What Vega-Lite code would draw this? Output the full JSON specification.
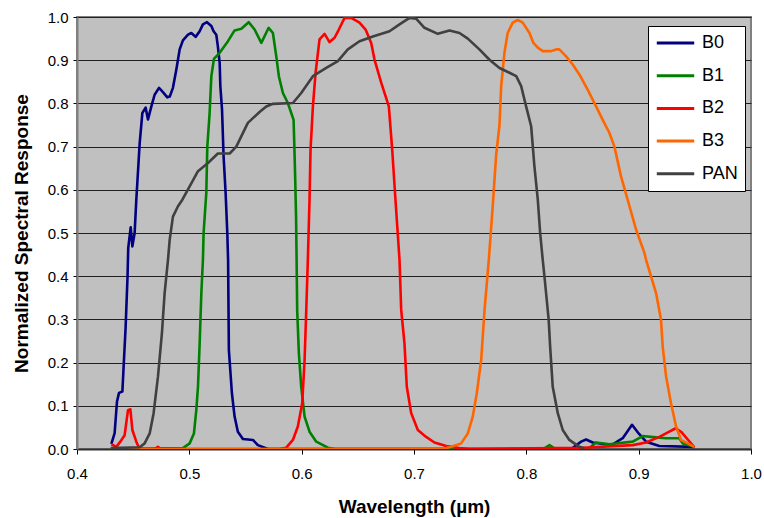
{
  "$schema": "https://vega.github.io/schema/vega-lite/v6.json",
  "width": 674,
  "height": 432,
  "autosize": {"type": "none"},
  "padding": {"left": 77, "top": 17, "right": 13, "bottom": 69},
  "background": "white",
  "config": {
    "font": "Liberation Sans",
    "view": {"fill": "#C0C0C0", "stroke": "#808080", "strokeWidth": 2}
  },
  "data": {
    "values": [
      {"band": "B0", "wl": 0.4306, "resp": 0.012},
      {"band": "B0", "wl": 0.4335, "resp": 0.037},
      {"band": "B0", "wl": 0.4356, "resp": 0.11},
      {"band": "B0", "wl": 0.4374, "resp": 0.13},
      {"band": "B0", "wl": 0.4404, "resp": 0.133},
      {"band": "B0", "wl": 0.4418, "resp": 0.206},
      {"band": "B0", "wl": 0.4433, "resp": 0.283},
      {"band": "B0", "wl": 0.4450, "resp": 0.40},
      {"band": "B0", "wl": 0.4456, "resp": 0.465},
      {"band": "B0", "wl": 0.4478, "resp": 0.513},
      {"band": "B0", "wl": 0.4493, "resp": 0.469},
      {"band": "B0", "wl": 0.4513, "resp": 0.50},
      {"band": "B0", "wl": 0.4528, "resp": 0.577},
      {"band": "B0", "wl": 0.4558, "resp": 0.708},
      {"band": "B0", "wl": 0.4582, "resp": 0.778},
      {"band": "B0", "wl": 0.4611, "resp": 0.790},
      {"band": "B0", "wl": 0.4632, "resp": 0.763},
      {"band": "B0", "wl": 0.4662, "resp": 0.793},
      {"band": "B0", "wl": 0.4691, "resp": 0.820},
      {"band": "B0", "wl": 0.4730, "resp": 0.836},
      {"band": "B0", "wl": 0.4765, "resp": 0.826},
      {"band": "B0", "wl": 0.4804, "resp": 0.814},
      {"band": "B0", "wl": 0.4826, "resp": 0.816},
      {"band": "B0", "wl": 0.4854, "resp": 0.836},
      {"band": "B0", "wl": 0.4884, "resp": 0.878},
      {"band": "B0", "wl": 0.4914, "resp": 0.925},
      {"band": "B0", "wl": 0.4943, "resp": 0.946},
      {"band": "B0", "wl": 0.4988, "resp": 0.959},
      {"band": "B0", "wl": 0.5018, "resp": 0.963},
      {"band": "B0", "wl": 0.5056, "resp": 0.954},
      {"band": "B0", "wl": 0.5092, "resp": 0.967},
      {"band": "B0", "wl": 0.5121, "resp": 0.983},
      {"band": "B0", "wl": 0.5157, "resp": 0.988},
      {"band": "B0", "wl": 0.5196, "resp": 0.979},
      {"band": "B0", "wl": 0.5216, "resp": 0.967},
      {"band": "B0", "wl": 0.5240, "resp": 0.959},
      {"band": "B0", "wl": 0.5254, "resp": 0.932},
      {"band": "B0", "wl": 0.5270, "resp": 0.894},
      {"band": "B0", "wl": 0.5276, "resp": 0.84},
      {"band": "B0", "wl": 0.5291, "resp": 0.786},
      {"band": "B0", "wl": 0.5305, "resp": 0.677},
      {"band": "B0", "wl": 0.5323, "resp": 0.593},
      {"band": "B0", "wl": 0.5338, "resp": 0.50},
      {"band": "B0", "wl": 0.5345, "resp": 0.438},
      {"band": "B0", "wl": 0.5352, "resp": 0.229},
      {"band": "B0", "wl": 0.5379, "resp": 0.129},
      {"band": "B0", "wl": 0.5403, "resp": 0.075},
      {"band": "B0", "wl": 0.5432, "resp": 0.040},
      {"band": "B0", "wl": 0.5477, "resp": 0.023},
      {"band": "B0", "wl": 0.5566, "resp": 0.021},
      {"band": "B0", "wl": 0.5610, "resp": 0.009},
      {"band": "B0", "wl": 0.5700, "resp": 0.0},
      {"band": "B0", "wl": 0.8400, "resp": 0.0},
      {"band": "B0", "wl": 0.8488, "resp": 0.017},
      {"band": "B0", "wl": 0.8532, "resp": 0.022},
      {"band": "B0", "wl": 0.8591, "resp": 0.015},
      {"band": "B0", "wl": 0.8700, "resp": 0.011},
      {"band": "B0", "wl": 0.8770, "resp": 0.011},
      {"band": "B0", "wl": 0.8858, "resp": 0.025},
      {"band": "B0", "wl": 0.8941, "resp": 0.056},
      {"band": "B0", "wl": 0.9000, "resp": 0.036},
      {"band": "B0", "wl": 0.9066, "resp": 0.017},
      {"band": "B0", "wl": 0.9184, "resp": 0.007},
      {"band": "B0", "wl": 0.9496, "resp": 0.005},

      {"band": "B1", "wl": 0.4300, "resp": 0.0},
      {"band": "B1", "wl": 0.4943, "resp": 0.002},
      {"band": "B1", "wl": 0.5003, "resp": 0.013},
      {"band": "B1", "wl": 0.5041, "resp": 0.036},
      {"band": "B1", "wl": 0.5062, "resp": 0.090},
      {"band": "B1", "wl": 0.5077, "resp": 0.144},
      {"band": "B1", "wl": 0.5092, "resp": 0.245},
      {"band": "B1", "wl": 0.5107, "resp": 0.361},
      {"band": "B1", "wl": 0.5121, "resp": 0.438},
      {"band": "B1", "wl": 0.5127, "resp": 0.50},
      {"band": "B1", "wl": 0.5151, "resp": 0.593},
      {"band": "B1", "wl": 0.5160, "resp": 0.70},
      {"band": "B1", "wl": 0.5180, "resp": 0.775},
      {"band": "B1", "wl": 0.5196, "resp": 0.863},
      {"band": "B1", "wl": 0.5219, "resp": 0.903},
      {"band": "B1", "wl": 0.5270, "resp": 0.917},
      {"band": "B1", "wl": 0.5344, "resp": 0.944},
      {"band": "B1", "wl": 0.5403, "resp": 0.969},
      {"band": "B1", "wl": 0.5463, "resp": 0.973},
      {"band": "B1", "wl": 0.5528, "resp": 0.988},
      {"band": "B1", "wl": 0.5581, "resp": 0.971},
      {"band": "B1", "wl": 0.5641, "resp": 0.940},
      {"band": "B1", "wl": 0.5706, "resp": 0.975},
      {"band": "B1", "wl": 0.5744, "resp": 0.963},
      {"band": "B1", "wl": 0.5774, "resp": 0.909},
      {"band": "B1", "wl": 0.5797, "resp": 0.863},
      {"band": "B1", "wl": 0.5833, "resp": 0.824},
      {"band": "B1", "wl": 0.5877, "resp": 0.801},
      {"band": "B1", "wl": 0.5928, "resp": 0.762},
      {"band": "B1", "wl": 0.5935, "resp": 0.70},
      {"band": "B1", "wl": 0.5943, "resp": 0.62},
      {"band": "B1", "wl": 0.5950, "resp": 0.538},
      {"band": "B1", "wl": 0.5955, "resp": 0.438},
      {"band": "B1", "wl": 0.5960, "resp": 0.322},
      {"band": "B1", "wl": 0.5975, "resp": 0.222},
      {"band": "B1", "wl": 0.5996, "resp": 0.144},
      {"band": "B1", "wl": 0.6026, "resp": 0.075},
      {"band": "B1", "wl": 0.6070, "resp": 0.040},
      {"band": "B1", "wl": 0.6130, "resp": 0.017},
      {"band": "B1", "wl": 0.6233, "resp": 0.003},
      {"band": "B1", "wl": 0.6300, "resp": 0.0},
      {"band": "B1", "wl": 0.8150, "resp": 0.0},
      {"band": "B1", "wl": 0.8206, "resp": 0.009},
      {"band": "B1", "wl": 0.8260, "resp": 0.0},
      {"band": "B1", "wl": 0.8550, "resp": 0.0},
      {"band": "B1", "wl": 0.8621, "resp": 0.015},
      {"band": "B1", "wl": 0.8740, "resp": 0.011},
      {"band": "B1", "wl": 0.8947, "resp": 0.017},
      {"band": "B1", "wl": 0.9036, "resp": 0.030},
      {"band": "B1", "wl": 0.9155, "resp": 0.027},
      {"band": "B1", "wl": 0.9244, "resp": 0.025},
      {"band": "B1", "wl": 0.9362, "resp": 0.025},
      {"band": "B1", "wl": 0.9392, "resp": 0.013},
      {"band": "B1", "wl": 0.9496, "resp": 0.005},

      {"band": "B2", "wl": 0.4306, "resp": 0.011},
      {"band": "B2", "wl": 0.4350, "resp": 0.005},
      {"band": "B2", "wl": 0.4386, "resp": 0.017},
      {"band": "B2", "wl": 0.4424, "resp": 0.032},
      {"band": "B2", "wl": 0.4454, "resp": 0.090},
      {"band": "B2", "wl": 0.4475, "resp": 0.092},
      {"band": "B2", "wl": 0.4493, "resp": 0.044},
      {"band": "B2", "wl": 0.4528, "resp": 0.017},
      {"band": "B2", "wl": 0.4552, "resp": 0.003},
      {"band": "B2", "wl": 0.4600, "resp": 0.0},
      {"band": "B2", "wl": 0.4690, "resp": 0.0},
      {"band": "B2", "wl": 0.4720, "resp": 0.005},
      {"band": "B2", "wl": 0.4750, "resp": 0.0},
      {"band": "B2", "wl": 0.5800, "resp": 0.0},
      {"band": "B2", "wl": 0.5863, "resp": 0.003},
      {"band": "B2", "wl": 0.5922, "resp": 0.021},
      {"band": "B2", "wl": 0.5966, "resp": 0.052},
      {"band": "B2", "wl": 0.6005, "resp": 0.106},
      {"band": "B2", "wl": 0.6026, "resp": 0.206},
      {"band": "B2", "wl": 0.6041, "resp": 0.322},
      {"band": "B2", "wl": 0.6055, "resp": 0.438},
      {"band": "B2", "wl": 0.6070, "resp": 0.577},
      {"band": "B2", "wl": 0.6079, "resp": 0.693},
      {"band": "B2", "wl": 0.6100, "resp": 0.793},
      {"band": "B2", "wl": 0.6124, "resp": 0.871},
      {"band": "B2", "wl": 0.6159, "resp": 0.948},
      {"band": "B2", "wl": 0.6204, "resp": 0.961},
      {"band": "B2", "wl": 0.6248, "resp": 0.942},
      {"band": "B2", "wl": 0.6293, "resp": 0.952},
      {"band": "B2", "wl": 0.6331, "resp": 0.971},
      {"band": "B2", "wl": 0.6382, "resp": 0.998},
      {"band": "B2", "wl": 0.6441, "resp": 0.998},
      {"band": "B2", "wl": 0.6515, "resp": 0.987},
      {"band": "B2", "wl": 0.6569, "resp": 0.971},
      {"band": "B2", "wl": 0.6619, "resp": 0.940},
      {"band": "B2", "wl": 0.6649, "resp": 0.901},
      {"band": "B2", "wl": 0.6708, "resp": 0.848},
      {"band": "B2", "wl": 0.6776, "resp": 0.793},
      {"band": "B2", "wl": 0.6806, "resp": 0.693},
      {"band": "B2", "wl": 0.6835, "resp": 0.577},
      {"band": "B2", "wl": 0.6871, "resp": 0.438},
      {"band": "B2", "wl": 0.6886, "resp": 0.322},
      {"band": "B2", "wl": 0.6915, "resp": 0.245},
      {"band": "B2", "wl": 0.6936, "resp": 0.144},
      {"band": "B2", "wl": 0.6975, "resp": 0.083},
      {"band": "B2", "wl": 0.7034, "resp": 0.044},
      {"band": "B2", "wl": 0.7108, "resp": 0.028},
      {"band": "B2", "wl": 0.7182, "resp": 0.015},
      {"band": "B2", "wl": 0.7287, "resp": 0.007},
      {"band": "B2", "wl": 0.7405, "resp": 0.002},
      {"band": "B2", "wl": 0.7500, "resp": 0.0},
      {"band": "B2", "wl": 0.8502, "resp": 0.003},
      {"band": "B2", "wl": 0.8947, "resp": 0.009},
      {"band": "B2", "wl": 0.9066, "resp": 0.015},
      {"band": "B2", "wl": 0.9184, "resp": 0.028},
      {"band": "B2", "wl": 0.9273, "resp": 0.040},
      {"band": "B2", "wl": 0.9330, "resp": 0.048},
      {"band": "B2", "wl": 0.9377, "resp": 0.040},
      {"band": "B2", "wl": 0.9496, "resp": 0.004},

      {"band": "B3", "wl": 0.4300, "resp": 0.0},
      {"band": "B3", "wl": 0.7250, "resp": 0.0},
      {"band": "B3", "wl": 0.7331, "resp": 0.005},
      {"band": "B3", "wl": 0.7420, "resp": 0.013},
      {"band": "B3", "wl": 0.7479, "resp": 0.036},
      {"band": "B3", "wl": 0.7523, "resp": 0.075},
      {"band": "B3", "wl": 0.7559, "resp": 0.129},
      {"band": "B3", "wl": 0.7598, "resp": 0.206},
      {"band": "B3", "wl": 0.7628, "resp": 0.322},
      {"band": "B3", "wl": 0.7666, "resp": 0.438},
      {"band": "B3", "wl": 0.7701, "resp": 0.562},
      {"band": "B3", "wl": 0.7731, "resp": 0.68},
      {"band": "B3", "wl": 0.7761, "resp": 0.75},
      {"band": "B3", "wl": 0.7776, "resp": 0.84},
      {"band": "B3", "wl": 0.7805, "resp": 0.917},
      {"band": "B3", "wl": 0.7834, "resp": 0.963},
      {"band": "B3", "wl": 0.7879, "resp": 0.987},
      {"band": "B3", "wl": 0.7924, "resp": 0.993},
      {"band": "B3", "wl": 0.7968, "resp": 0.987},
      {"band": "B3", "wl": 0.8028, "resp": 0.963},
      {"band": "B3", "wl": 0.8063, "resp": 0.940},
      {"band": "B3", "wl": 0.8102, "resp": 0.929},
      {"band": "B3", "wl": 0.8146, "resp": 0.921},
      {"band": "B3", "wl": 0.8221, "resp": 0.921},
      {"band": "B3", "wl": 0.8265, "resp": 0.925},
      {"band": "B3", "wl": 0.8294, "resp": 0.925},
      {"band": "B3", "wl": 0.8354, "resp": 0.909},
      {"band": "B3", "wl": 0.8413, "resp": 0.890},
      {"band": "B3", "wl": 0.8472, "resp": 0.867},
      {"band": "B3", "wl": 0.8546, "resp": 0.832},
      {"band": "B3", "wl": 0.8621, "resp": 0.793},
      {"band": "B3", "wl": 0.8680, "resp": 0.762},
      {"band": "B3", "wl": 0.8739, "resp": 0.732},
      {"band": "B3", "wl": 0.8784, "resp": 0.700},
      {"band": "B3", "wl": 0.8843, "resp": 0.631},
      {"band": "B3", "wl": 0.8902, "resp": 0.577},
      {"band": "B3", "wl": 0.8977, "resp": 0.508},
      {"band": "B3", "wl": 0.9051, "resp": 0.454},
      {"band": "B3", "wl": 0.9066, "resp": 0.438},
      {"band": "B3", "wl": 0.9155, "resp": 0.361},
      {"band": "B3", "wl": 0.9199, "resp": 0.299},
      {"band": "B3", "wl": 0.9214, "resp": 0.237},
      {"band": "B3", "wl": 0.9244, "resp": 0.168},
      {"band": "B3", "wl": 0.9288, "resp": 0.106},
      {"band": "B3", "wl": 0.9333, "resp": 0.052},
      {"band": "B3", "wl": 0.9377, "resp": 0.021},
      {"band": "B3", "wl": 0.9496, "resp": 0.005},

      {"band": "PAN", "wl": 0.4300, "resp": 0.002},
      {"band": "PAN", "wl": 0.4558, "resp": 0.004},
      {"band": "PAN", "wl": 0.4602, "resp": 0.013},
      {"band": "PAN", "wl": 0.4647, "resp": 0.036},
      {"band": "PAN", "wl": 0.4682, "resp": 0.083},
      {"band": "PAN", "wl": 0.4721, "resp": 0.168},
      {"band": "PAN", "wl": 0.4756, "resp": 0.268},
      {"band": "PAN", "wl": 0.4780, "resp": 0.361},
      {"band": "PAN", "wl": 0.4810, "resp": 0.438},
      {"band": "PAN", "wl": 0.4825, "resp": 0.484},
      {"band": "PAN", "wl": 0.4854, "resp": 0.538},
      {"band": "PAN", "wl": 0.4899, "resp": 0.562},
      {"band": "PAN", "wl": 0.4938, "resp": 0.577},
      {"band": "PAN", "wl": 0.5003, "resp": 0.608},
      {"band": "PAN", "wl": 0.5077, "resp": 0.643},
      {"band": "PAN", "wl": 0.5166, "resp": 0.662},
      {"band": "PAN", "wl": 0.5254, "resp": 0.684},
      {"band": "PAN", "wl": 0.5359, "resp": 0.684},
      {"band": "PAN", "wl": 0.5418, "resp": 0.700},
      {"band": "PAN", "wl": 0.5521, "resp": 0.755},
      {"band": "PAN", "wl": 0.5625, "resp": 0.780},
      {"band": "PAN", "wl": 0.5685, "resp": 0.793},
      {"band": "PAN", "wl": 0.5744, "resp": 0.799},
      {"band": "PAN", "wl": 0.5922, "resp": 0.801},
      {"band": "PAN", "wl": 0.5996, "resp": 0.824},
      {"band": "PAN", "wl": 0.6100, "resp": 0.863},
      {"band": "PAN", "wl": 0.6219, "resp": 0.882},
      {"band": "PAN", "wl": 0.6322, "resp": 0.898},
      {"band": "PAN", "wl": 0.6411, "resp": 0.925},
      {"band": "PAN", "wl": 0.6515, "resp": 0.944},
      {"band": "PAN", "wl": 0.6634, "resp": 0.955},
      {"band": "PAN", "wl": 0.6782, "resp": 0.967},
      {"band": "PAN", "wl": 0.6871, "resp": 0.983},
      {"band": "PAN", "wl": 0.6960, "resp": 0.998},
      {"band": "PAN", "wl": 0.7019, "resp": 0.996},
      {"band": "PAN", "wl": 0.7093, "resp": 0.975},
      {"band": "PAN", "wl": 0.7212, "resp": 0.961},
      {"band": "PAN", "wl": 0.7316, "resp": 0.969},
      {"band": "PAN", "wl": 0.7405, "resp": 0.963},
      {"band": "PAN", "wl": 0.7479, "resp": 0.950},
      {"band": "PAN", "wl": 0.7582, "resp": 0.925},
      {"band": "PAN", "wl": 0.7672, "resp": 0.901},
      {"band": "PAN", "wl": 0.7761, "resp": 0.882},
      {"band": "PAN", "wl": 0.7850, "resp": 0.871},
      {"band": "PAN", "wl": 0.7910, "resp": 0.863},
      {"band": "PAN", "wl": 0.7954, "resp": 0.840},
      {"band": "PAN", "wl": 0.7998, "resp": 0.793},
      {"band": "PAN", "wl": 0.8043, "resp": 0.747},
      {"band": "PAN", "wl": 0.8072, "resp": 0.654},
      {"band": "PAN", "wl": 0.8102, "resp": 0.577},
      {"band": "PAN", "wl": 0.8123, "resp": 0.500},
      {"band": "PAN", "wl": 0.8146, "resp": 0.438},
      {"band": "PAN", "wl": 0.8161, "resp": 0.400},
      {"band": "PAN", "wl": 0.8199, "resp": 0.299},
      {"band": "PAN", "wl": 0.8212, "resp": 0.237},
      {"band": "PAN", "wl": 0.8235, "resp": 0.144},
      {"band": "PAN", "wl": 0.8280, "resp": 0.083},
      {"band": "PAN", "wl": 0.8324, "resp": 0.044},
      {"band": "PAN", "wl": 0.8383, "resp": 0.021},
      {"band": "PAN", "wl": 0.8472, "resp": 0.005},
      {"band": "PAN", "wl": 0.8517, "resp": 0.002}
    ]
  },
  "mark": {"type": "line", "strokeWidth": 2.6, "strokeJoin": "round", "clip": true},
  "encoding": {
    "x": {
      "field": "wl",
      "type": "quantitative",
      "scale": {"domain": [0.4, 1.0], "nice": false, "zero": false},
      "axis": {
        "title": "Wavelength (µm)",
        "values": [0.4, 0.5, 0.6, 0.7, 0.8, 0.9, 1.0],
        "format": ".1f",
        "grid": false,
        "labelFlush": false,
        "domainColor": "#303030",
        "domainWidth": 2,
        "tickColor": "#000000",
        "tickSize": 5,
        "labelPadding": 12,
        "labelFontSize": 15,
        "labelColor": "#000000",
        "titleFontSize": 19,
        "titleFontWeight": "bold",
        "titleColor": "#000000",
        "titlePadding": 16
      }
    },
    "y": {
      "field": "resp",
      "type": "quantitative",
      "scale": {"domain": [0, 1.0], "nice": false},
      "axis": {
        "title": "Normalized Spectral Response",
        "values": [0, 0.1, 0.2, 0.3, 0.4, 0.5, 0.6, 0.7, 0.8, 0.9, 1.0],
        "format": ".1f",
        "grid": true,
        "labelFlush": false,
        "gridColor": "#202020",
        "gridWidth": 1,
        "domainColor": "#808080",
        "domainWidth": 2,
        "tickColor": "#000000",
        "tickSize": 4,
        "labelPadding": 5,
        "labelFontSize": 15,
        "labelColor": "#000000",
        "titleFontSize": 19,
        "titleFontWeight": "bold",
        "titleColor": "#000000",
        "titlePadding": 16
      }
    },
    "color": {
      "field": "band",
      "type": "nominal",
      "sort": ["B0", "B1", "B2", "B3", "PAN"],
      "scale": {
        "domain": ["B0", "B1", "B2", "B3", "PAN"],
        "range": ["#000080", "#008000", "#FF0000", "#FF6600", "#404040"]
      },
      "legend": {
        "title": null,
        "orient": "none",
        "legendX": 571,
        "legendY": 9,
        "fillColor": "#FFFFFF",
        "strokeColor": "#000000",
        "padding": 7,
        "symbolType": "stroke",
        "symbolSize": 1400,
        "symbolStrokeWidth": 3,
        "clipHeight": 20,
        "rowPadding": 12.7,
        "labelFontSize": 18,
        "labelColor": "#000000",
        "labelOffset": 6
      }
    }
  }
}
